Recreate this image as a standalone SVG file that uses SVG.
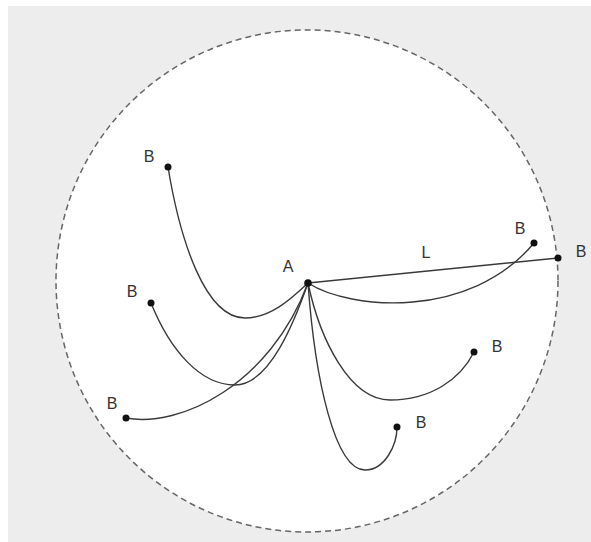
<svg xmlns="http://www.w3.org/2000/svg" width="591" height="542" viewBox="0 0 591 542">
<style>
.lbl{font-family:"Liberation Sans",Arial,sans-serif;font-size:16px;fill:#333;text-anchor:middle}
.edge{fill:none;stroke:#3a3a3a;stroke-width:1.4}
.dot{fill:#111}
</style>
<rect x="0" y="0" width="591" height="542" fill="#ffffff"/>
<rect x="8" y="6" width="583" height="536" fill="#ededed"/>
<circle cx="307" cy="281" r="251" fill="#ffffff" stroke="#666" stroke-width="1.5" stroke-dasharray="6,4"/>
<g id="connectors">
<path class="edge" d="M168,167 C180,240 205,318 245,318 C270,318 290,300 308,283"/>
<path class="edge" d="M151,303 C170,350 200,385 235,385 C270,385 295,320 308,283"/>
<path class="edge" d="M126,418 C180,428 270,385 308,283"/>
<path class="edge" d="M308,283 C315,380 335,470 365,470 C385,470 397,445 397,427"/>
<path class="edge" d="M308,283 C320,340 350,400 390,400 C430,400 460,380 474,352"/>
<path class="edge" d="M308,283 C350,310 470,320 534,243"/>
<path class="edge" d="M308,283 L558,258"/>
</g>
<g id="A"><circle class="dot" cx="308" cy="283" r="3.8"/><text class="lbl" x="288" y="272">A</text></g>
<g id="B1"><circle class="dot" cx="168" cy="167" r="3.5"/><text class="lbl" x="149" y="162">B</text></g>
<g id="B2"><circle class="dot" cx="151" cy="303" r="3.5"/><text class="lbl" x="132" y="297">B</text></g>
<g id="B3"><circle class="dot" cx="126" cy="418" r="3.5"/><text class="lbl" x="112" y="409">B</text></g>
<g id="B4"><circle class="dot" cx="397" cy="427" r="3.5"/><text class="lbl" x="421" y="428">B</text></g>
<g id="B5"><circle class="dot" cx="474" cy="352" r="3.5"/><text class="lbl" x="497" y="352">B</text></g>
<g id="B6"><circle class="dot" cx="534" cy="243" r="3.5"/><text class="lbl" x="520" y="234">B</text></g>
<g id="B7"><circle class="dot" cx="558" cy="258" r="3.5"/><text class="lbl" x="581" y="257">B</text></g>
<g id="L"><text class="lbl" x="426" y="258">L</text></g>
</svg>
